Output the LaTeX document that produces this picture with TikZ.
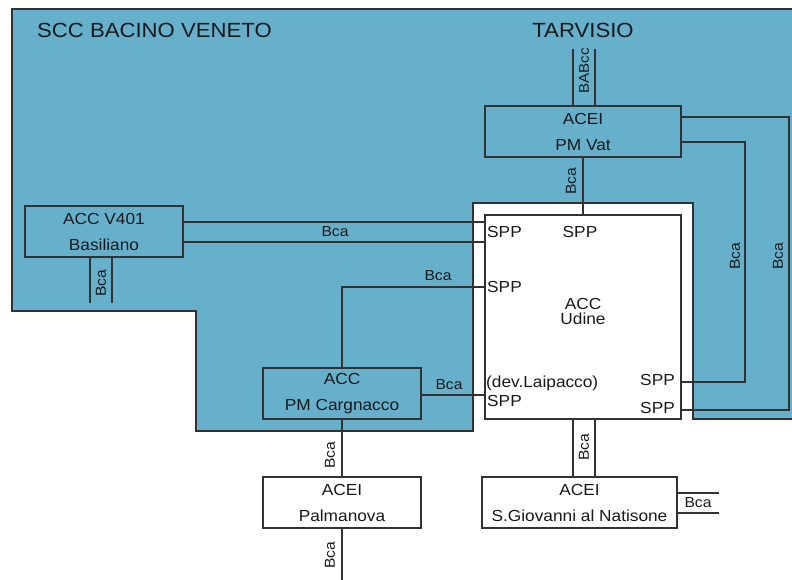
\documentclass[tikz,border=0pt]{standalone}
\usepackage{fontspec}
\setmainfont{Liberation Sans}[FakeStretch=1.08]
\definecolor{sccblue}{RGB}{102,176,204}
\definecolor{linec}{RGB}{50,50,50}
\definecolor{textc}{RGB}{25,25,25}
\newcommand\fsz[1]{\fontsize{#1}{#1}\selectfont}
\begin{document}
\begin{tikzpicture}[x=1pt,y=-1pt,
  box/.style={draw=linec,line width=1.2pt,inner sep=0pt,minimum width=158pt,minimum height=51pt,
    align=center,text=textc,font=\fontsize{16}{26}\selectfont},
  wire/.style={draw=linec,line width=1.2pt},
  lbl/.style={inner sep=1pt,text=textc,font=\fsz{14.5}},
  vlbl/.style={inner sep=1pt,text=textc,font=\fsz{14.5},rotate=90},
  spp/.style={inner sep=0pt,text=textc,font=\fsz{16}},
  title/.style={inner sep=0pt,text=textc,font=\fsz{20.5}}]
\useasboundingbox (0,0) rectangle (792,580);
% blue region
\fill[sccblue] (12,9) -- (792,9) -- (792,419) -- (693,419) -- (693,203) -- (473,203)
  -- (473,431) -- (196,431) -- (196,311) -- (12,311) -- cycle;
\draw[wire] (792,9) -- (12,9) -- (12,311) -- (196,311) -- (196,431) -- (473,431)
  -- (473,203) -- (693,203) -- (693,419) -- (792,419);
\node[title,anchor=west] (scc) at (37,30) {SCC BACINO VENETO};
\node[title] (tarvisio) at (583,30) {TARVISIO};
% boxes
\node[box,fill=sccblue,minimum width=196pt] (vat) at (583,131.5) {ACEI\\PM Vat};
\node[box,fill=sccblue] (bas) at (104,231.5) {ACC V401\\Basiliano};
\node[box,fill=sccblue] (carg) at (342,393.5) {ACC\\PM Cargnacco};
\node[box,fill=white] (palm) at (342,502.5) {ACEI\\Palmanova};
\node[box,fill=white,minimum width=195pt] (sgio) at (579.5,502.5) {ACEI\\S.Giovanni al Natisone};
\node[box,fill=white,minimum width=196pt,minimum height=204pt] (udine) at (583,317) {};
\node[inner sep=0pt,text=textc,font=\fsz{16}] (udacc) at (583,304) {ACC};
\node[inner sep=0pt,text=textc,font=\fsz{16}] (ududine) at (583,319) {Udine};
% connectors
\coordinate (tarvA) at (573,49);
\coordinate (tarvB) at (595,49);
\draw[wire] (tarvA) -- (tarvA |- vat.north);
\draw[wire] (tarvB) -- (tarvB |- vat.north);
\node[vlbl,font=\fsz{14}] (babcc) at (584,71) {BABcc};
\draw[wire] (vat.south) -- (udine.north);
\node[vlbl] (l1) at (571,181) {Bca};
\draw[wire] (vat.east |- 0,117) -- (789,117) -- (789,410) -- (udine.east |- 0,410);
\draw[wire] (vat.east |- 0,142) -- (745,142) -- (745,382) -- (udine.east |- 0,382);
\node[vlbl] (l2) at (735,256) {Bca};
\node[vlbl] (l3) at (778,256) {Bca};
\draw[wire] (bas.east |- 0,222) -- (udine.west |- 0,222);
\draw[wire] (bas.east |- 0,242) -- (udine.west |- 0,242);
\node[lbl] (l4) at (335,232) {Bca};
\coordinate (basA) at (90,303);
\coordinate (basB) at (112,303);
\draw[wire] (basA |- bas.south) -- (basA);
\draw[wire] (basB |- bas.south) -- (basB);
\node[vlbl] (l5) at (101,283) {Bca};
\draw[wire] (udine.west |- 0,287) -| (carg.north);
\node[lbl] (l6) at (438,276) {Bca};
\draw[wire] (carg.east |- 0,395) -- (udine.west |- 0,395);
\node[lbl] (l7) at (449,385) {Bca};
\draw[wire] (carg.south) -- (palm.north);
\node[vlbl] (l8) at (330,455) {Bca};
\coordinate (palmend) at (342,580);
\draw[wire] (palm.south) -- (palmend);
\node[vlbl] (l9) at (330,555) {Bca};
\draw[wire] (udine.south -| 573,0) -- (sgio.north -| 573,0);
\draw[wire] (udine.south -| 595,0) -- (sgio.north -| 595,0);
\node[vlbl] (l10) at (584,447) {Bca};
\coordinate (sgA) at (719,493);
\coordinate (sgB) at (719,513);
\draw[wire] (sgio.east |- sgA) -- (sgA);
\draw[wire] (sgio.east |- sgB) -- (sgB);
\node[lbl] (l11) at (698,503) {Bca};
% SPP labels
\node[spp,anchor=west] (s1) at (487,232) {SPP};
\node[spp] (s2) at (580,232) {SPP};
\node[spp,anchor=west] (s3) at (487,287) {SPP};
\node[spp,anchor=west] (dev) at (486,383) {(dev.Laipacco)};
\node[spp,anchor=west] (s4) at (487,401) {SPP};
\node[spp,anchor=east] (s5) at (675,380) {SPP};
\node[spp,anchor=east] (s6) at (675,408) {SPP};
\end{tikzpicture}
\end{document}
